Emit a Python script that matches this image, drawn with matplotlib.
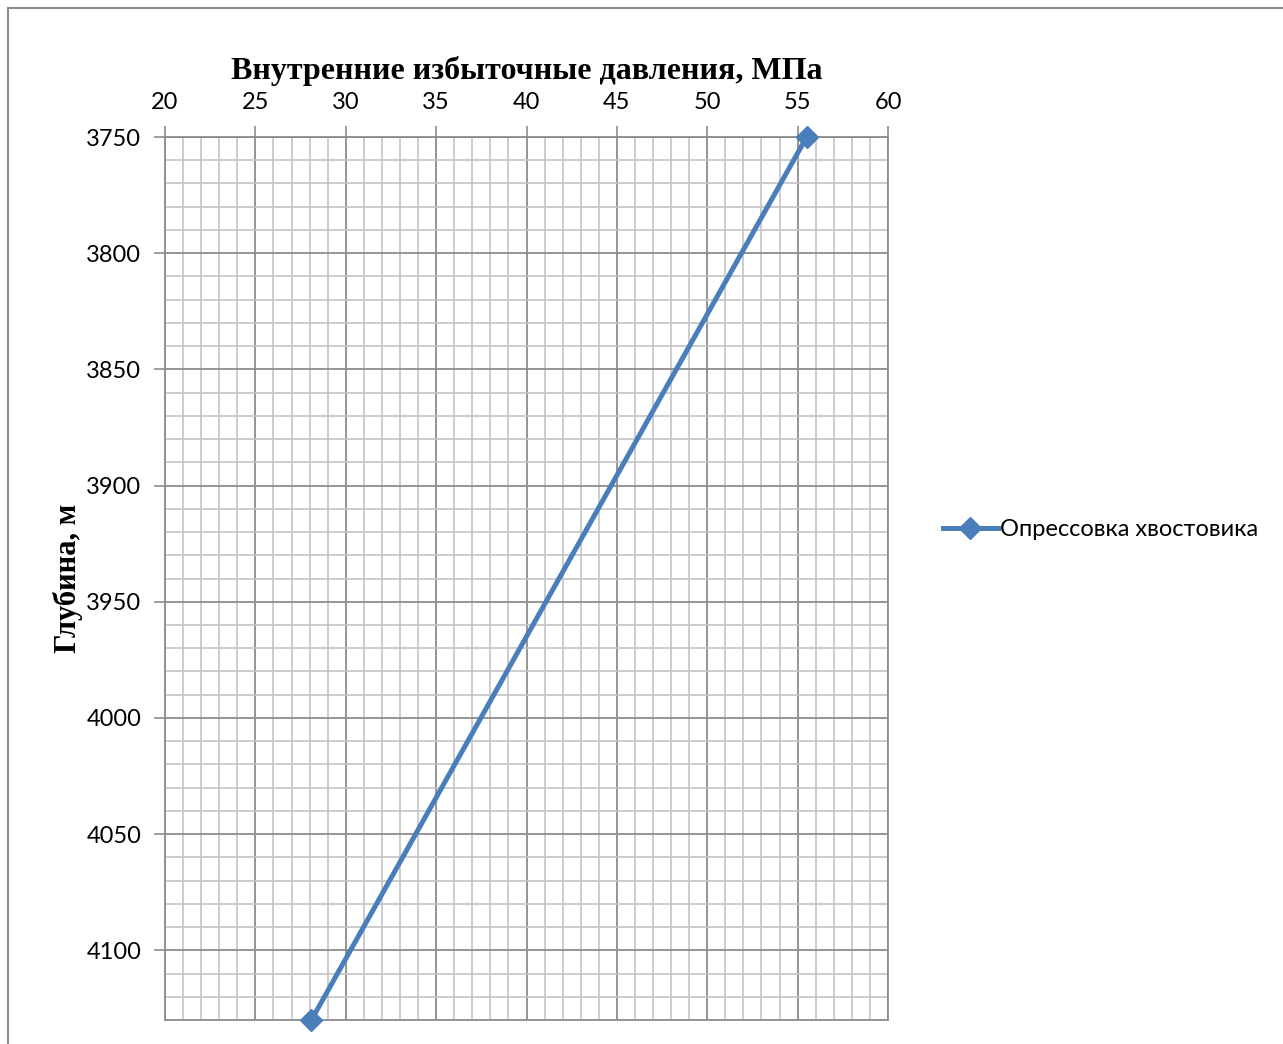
import numpy as np
import matplotlib
matplotlib.use("Agg")
from matplotlib import pyplot as plt
from matplotlib.ticker import MultipleLocator
from matplotlib.patches import Rectangle

# data
pressure = [55.5, 28.1]      # МПа
depth = [3750, 4130]         # м
series_name = "Опрессовка хвостовика"

fig = plt.figure(figsize=(12.83, 10.44), dpi=100)
ax = fig.add_axes([165/1283, 1 - 1020/1044, (888-165)/1283, (1020-137)/1044])

ax.plot(pressure, depth, color="#4A7EBB", lw=3.6, marker="D", ms=11,
        label=series_name, zorder=3, clip_on=False)

ax.set_xlim(20, 60)
ax.set_ylim(4130, 3750)
ax.xaxis.set_major_locator(MultipleLocator(5))
ax.xaxis.set_minor_locator(MultipleLocator(1))
ax.yaxis.set_major_locator(MultipleLocator(50))
ax.yaxis.set_minor_locator(MultipleLocator(10))

ax.grid(True, which="major", color="#8c8c8c", lw=1.3)
ax.grid(True, which="minor", color="#c4c4c4", lw=1.2)
ax.set_axisbelow(True)

ax.xaxis.tick_top()
ax.tick_params(which="major", direction="out", length=8, width=1.2, color="#8c8c8c",
               labelsize=17, pad=9)
ax.tick_params(which="minor", length=0)
for lab in ax.get_xticklabels() + ax.get_yticklabels():
    lab.set_family("Lato")
for s in ax.spines.values():
    s.set_color("#8c8c8c")
    s.set_linewidth(1.3)

ax.set_title("Внутренние избыточные давления, МПа", family="Liberation Serif",
             fontweight="bold", fontsize=23, pad=42)
ax.set_ylabel("Глубина, м", family="Liberation Serif", fontweight="bold",
              fontsize=22, labelpad=2)

leg = fig.legend(loc="center left", bbox_to_anchor=(922/1283, 1 - 530/1044),
                 frameon=False, prop={"family": "Lato", "size": 17},
                 handlelength=2.3, handletextpad=0.1)

# chart border
fig.patches.append(Rectangle((8/1283, -0.1), 1.2, 1 - 8/1044 + 0.1,
                             transform=fig.transFigure, fill=False,
                             edgecolor="#8c8c8c", lw=1.5))

fig.savefig("out.png", dpi=100)
